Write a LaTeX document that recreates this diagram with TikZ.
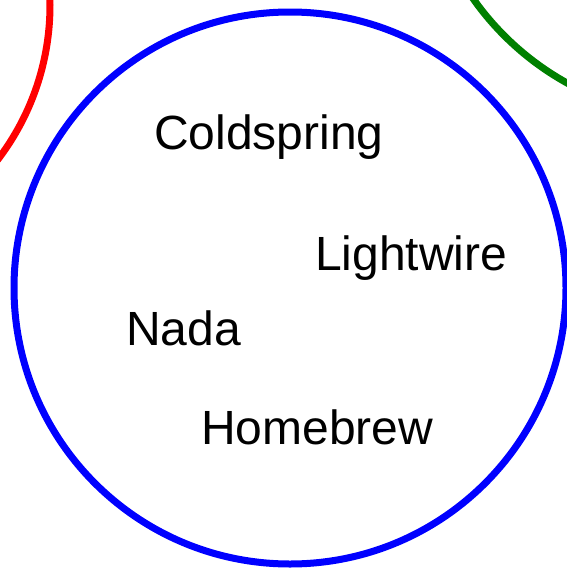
\documentclass[tikz,border=0pt]{standalone}
\usepackage{fontspec}
\setmainfont{Liberation Sans}

\begin{document}
\begin{tikzpicture}[x=1pt,y=-1pt]
      \tikzstyle{every node}+=[inner sep=0pt,anchor=base west,font=\fontsize{48}{48}\selectfont]
      \useasboundingbox (0,0) rectangle (567,570);
      \clip (0,0) rectangle (567,570);
      \draw [red,line width=7pt] (-205,5) circle (255);
      \draw [green!50!black,line width=7pt] (703,-163) circle (281);
      \draw [blue,line width=7pt] (290,288) circle (276);
      \node (coldspring) at (154,149) {Coldspring};
      \node (lightwire) at (315,270) {Lightwire};
      \node (nada) at (126,345) {Nada};
      \node (homebrew) at (201,444) {Homebrew};
    \end{tikzpicture}
\end{document}
